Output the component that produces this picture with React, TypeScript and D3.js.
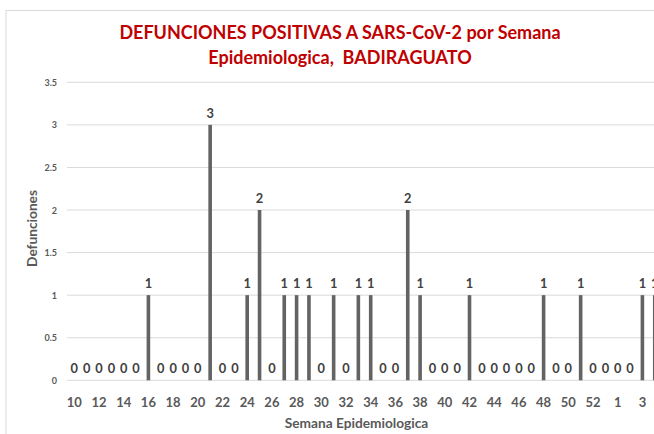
import React from "react";
import * as d3 from "d3";

const weeks: string[] = [
  "10","11","12","13","14","15","16","17","18","19","20","21","22","23","24","25","26","27","28","29","30",
  "31","32","33","34","35","36","37","38","39","40","41","42","43","44","45","46","47","48","49","50","51","52","53",
  "1","2","3","4",
];
const deaths: number[] = [
  0,0,0,0,0,0,1,0,0,0,0,3,0,0,1,2,0,1,1,1,0,
  1,0,1,1,0,0,2,1,0,0,0,1,0,0,0,0,0,1,0,0,1,0,0,
  0,0,1,1,
];
const yTicks: number[] = [0, 0.5, 1, 1.5, 2, 2.5, 3, 3.5];
const titleLines: string[] = ["DEFUNCIONES POSITIVAS A SARS-CoV-2 por Semana", "Epidemiologica,  BADIRAGUATO"];

const W = 654, H = 434;
const FONT = "Lato, 'Open Sans', sans-serif";

export default function App() {
  const step = 12.35;
  const x0 = 74.3;
  const x = (i: number) => x0 + i * step;
  const y = d3.scaleLinear().domain([0, 3.5]).range([380.3, 82.3]);
  const barW = 3.6;
  return (
    <svg width={W} height={H} style={{ position: "absolute", left: 0, top: 0, background: "#fff" }}>
      <rect x={6} y={10.5} width={W + 20} height={H + 20} fill="#fff" stroke="#D9D9D9" strokeWidth={1} />
      {titleLines.map((t, i) => (
        <text key={i} x={340} y={38.5 + i * 25} textAnchor="middle" fill="#C00000" fontFamily={FONT} fontWeight={700} fontSize={18} style={{ whiteSpace: "pre" }}>{t}</text>
      ))}
      {yTicks.map((v) => (
        <g key={v}>
          <line x1={67} x2={W + 10} y1={y(v)} y2={y(v)} stroke="#D9D9D9" strokeWidth={1} />
          <text x={57} y={y(v) + 3.5} textAnchor="end" fill="#595959" fontFamily={FONT} fontWeight={700} fontSize={9}>{v}</text>
        </g>
      ))}
      <text transform={`translate(36.5,228.5) rotate(-90)`} textAnchor="middle" fill="#595959" fontFamily={FONT} fontWeight={700} fontSize={13.7}>Defunciones</text>
      {deaths.map((d, i) => (
        <g key={i}>
          {d > 0 && <rect x={x(i) - barW / 2} y={y(d)} width={barW} height={y(0) - y(d)} fill="#636363" />}
          <text x={x(i)} y={d > 0 ? y(d) - 7 : 372.5} textAnchor="middle" fill="#404040" fontFamily={FONT} fontWeight={700} fontSize={12.8}>{d}</text>
        </g>
      ))}
      {weeks.map((w, i) => (i % 2 === 0 ? (
        <text key={w + i} x={x(i)} y={406.5} textAnchor="middle" fill="#595959" fontFamily={FONT} fontWeight={700} fontSize={13}>{w}</text>
      ) : null))}
      <text x={356.5} y={428} textAnchor="middle" fill="#595959" fontFamily={FONT} fontWeight={700} fontSize={13.7}>Semana Epidemiologica</text>
    </svg>
  );
}
